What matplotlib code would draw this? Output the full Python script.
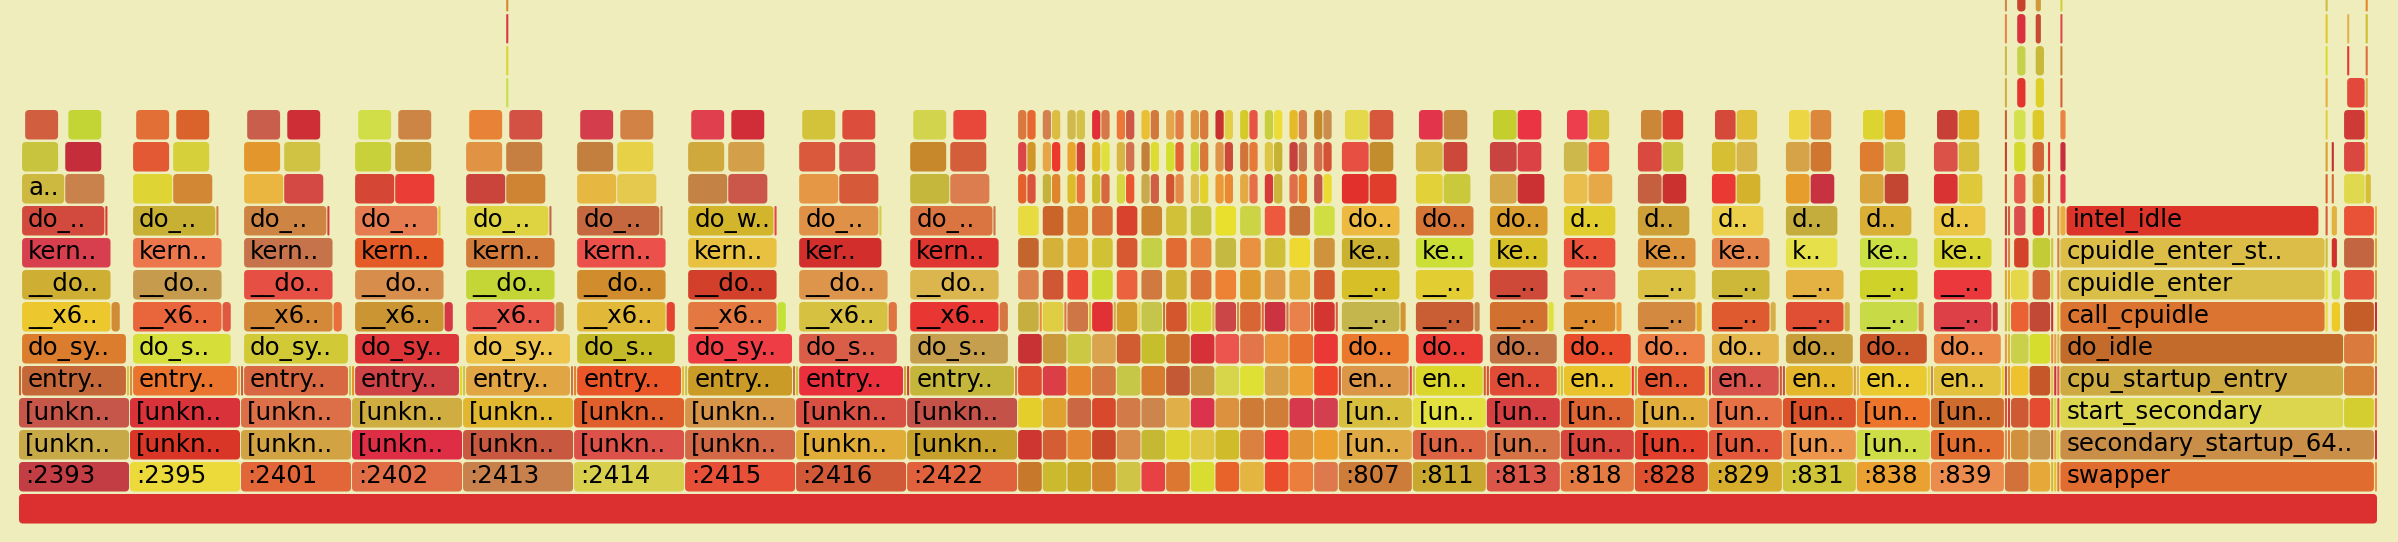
import hashlib
import matplotlib
matplotlib.use("Agg")
import matplotlib.pyplot as plt
from matplotlib.patches import FancyBboxPatch

# --- data (sample counts / frame layout in samples) ---
BIG_PIDS = [':2393', ':2395', ':2401', ':2402', ':2413', ':2414', ':2415', ':2416', ':2422']
BIG_SAMPLES = [36] * 9
BIG_W5 = [34, 32, 34, 34, 34, 32, 34, 32, 32]   # do_syscall_64
BIG_W8 = [29, 29, 29, 29, 29, 29, 29, 27, 29]   # kernel_wait4
BIG_W9 = [27, 27, 27, 27, 27, 27, 28, 26, 27]   # do_wait
BIG_A = [14, 13, 13, 13, 13, 13, 13, 13, 13]    # add_wait_queue

SMALL_PIDS = [':2433', ':2447', ':2461', ':2478', ':2490', ':2502', ':2519',
              ':2534', ':2548', ':2566', ':2581', ':2597', ':2610']
SMALL_SAMPLES = [8] * 13

MID_PIDS = [':807', ':811', ':813', ':818', ':828', ':829', ':831', ':838', ':839']
MID_SAMPLES = [24] * 9
MID_W6 = [19, 19, 19, 17, 19, 19, 19, 19, 19]
MID_W8 = [19, 19, 19, 17, 19, 19, 17, 19, 19]
MID_W9 = [19, 19, 19, 17, 17, 17, 17, 17, 17]
MID_T = [9, 9, 9, 8, 8, 8, 8, 8, 8]

TAIL_PIDS = [':845', ':849', ':862', ':870', ':901', 'swapper', 'systemd']
TAIL_SAMPLES = [8, 7, 1, 1, 1, 102, 1]

SWAPPER_FRAMES = [
    (2, 662, 102, 'secondary_startup_64_no_verify'),
    (3, 662, 92, 'start_secondary'),
    (3, 754, 10, 'x86_64_start_kernel'),
    (4, 662, 92, 'cpu_startup_entry'),
    (4, 754, 10, 'x86_64_start_reservations'),
    (5, 662, 92, 'do_idle'),
    (5, 754, 10, 'start_kernel'),
    (6, 662, 86, 'call_cpuidle'),
    (6, 750, 3, 'schedule_idle'),
    (6, 754, 10, 'arch_call_rest_init'),
    (7, 662, 86, 'cpuidle_enter'),
    (7, 750, 3, '__schedule'),
    (7, 754, 10, 'rest_init'),
    (8, 662, 86, 'cpuidle_enter_state'),
    (8, 750, 2, 'finish_task_switch'),
    (8, 754, 10, 'cpu_startup_entry'),
    (9, 662, 2, 'asm_sysvec_apic_timer_interrupt'),
    (9, 664, 82, 'intel_idle'),
    (9, 750, 2, '__perf_event_task_sched_in'),
    (9, 754, 10, 'do_idle'),
    (10, 754, 7, 'call_cpuidle'),
    (10, 761, 2, 'schedule_idle'),
    (11, 754, 7, 'cpuidle_enter'),
    (12, 754, 7, 'cpuidle_enter_state'),
    (13, 755, 6, 'intel_idle'),
]

# thin stacked columns: (start, width, depth_from, depth_to, name)
COLUMNS = [
    (644, 1, 2, 16, 'asm_exc_page_fault'),
    (645, 1, 2, 9, 'exc_page_fault'),
    (646, 6, 2, 7, '[unknown]'),
    (647, 5, 8, 8, 'do_syscall_64'),
    (647, 4, 9, 12, 'futex_wait'),
    (648, 3, 13, 16, 'schedule'),
    (652, 7, 2, 6, '[unknown]'),
    (653, 6, 7, 8, 'entry_SYSCALL_64'),
    (653, 4, 9, 12, 'do_futex'),
    (658, 1, 9, 11, 'futex_wake'),
    (654, 3, 13, 14, 'schedule'),
    (654, 2, 15, 16, 'finish_task_switch'),
    (659, 1, 2, 8, 'ret_from_fork'),
    (660, 1, 2, 5, 'kthread'),
    (661, 1, 2, 9, 'worker_thread'),
    (764, 1, 2, 9, 'ret_from_fork'),
    (158, 1, 13, 16, 'asm_sysvec_apic_timer_interrupt'),
    (662, 2, 10, 12, 'sysvec_apic_timer_interrupt'),
    (662, 1, 13, 16, 'hrtimer_interrupt'),
    (748, 1, 6, 16, 'flush_smp_call_function_queue'),
    (750, 1, 10, 11, 'pick_next_task'),
    (761, 1, 11, 16, '__schedule'),
    (755, 1, 14, 15, 'native_safe_halt'),
]

# --- style ---
BG = '#eeedbb'
FIXED_COLORS = {
    (0, ''): '#dc3030',
    (1, 'swapper'): '#e06c30',
    (2, 'secondary_startup_64_no_verify'): '#c98f48',
    (3, 'start_secondary'): '#dcd64e',
    (4, 'cpu_startup_entry'): '#cdaa42',
    (5, 'do_idle'): '#c26b2a',
    (6, 'call_cpuidle'): '#db7430',
    (7, 'cpuidle_enter'): '#d9bf48',
    (8, 'cpuidle_enter_state'): '#dbbd48',
    (9, 'intel_idle'): '#dc3428',
}
X0, X1 = 19.0, 2378.0
ROOT_TOP, PITCH, BAR_H = 494.0, 32.0, 29.5
FONT_PX = 24.0

frames = []  # (depth, start, width, name)


def add(depth, start, width, name):
    frames.append((depth, start, width, name))


total = sum(BIG_SAMPLES) + sum(SMALL_SAMPLES) + sum(MID_SAMPLES) + sum(TAIL_SAMPLES)
add(0, 0, total, '')

pos = 0
for i, pid in enumerate(BIG_PIDS):
    s = pos
    a = BIG_A[i]
    add(1, s, BIG_SAMPLES[i], pid)
    add(2, s, 36, '[unknown]')
    add(3, s, 36, '[unknown]')
    add(4, s, 1, '[unknown]')
    add(4, s + 1, 34, 'entry_SYSCALL_64_after_hwframe')
    add(4, s + 35, 1, 'syscall_return_via_sysret')
    add(5, s + 1, BIG_W5[i], 'do_syscall_64')
    add(6, s + 1, 29, '__x64_sys_wait4')
    add(6, s + 30, 3, 'syscall_exit_to_user_mode')
    add(7, s + 1, 29, '__do_sys_wait4')
    add(8, s + 1, BIG_W8[i], 'kernel_wait4')
    add(9, s + 1, BIG_W9[i], 'do_wait')
    add(9, s + 1 + BIG_W9[i], 1, 'put_pid')
    add(10, s + 1, a, 'add_wait_queue')
    add(10, s + 1 + a, 13, 'schedule')
    add(11, s + 1, 12, '_raw_spin_lock_irqsave')
    add(11, s + 1 + a, 12, '__schedule')
    add(12, s + 2, 11, 'native_queued_spin_lock_slowpath')
    add(12, s + 2 + a, 11, 'pick_next_task_fair')
    pos += BIG_SAMPLES[i]

for i, pid in enumerate(SMALL_PIDS):
    s = pos
    add(1, s, SMALL_SAMPLES[i], pid)
    add(2, s, 8, '[unknown]')
    add(3, s, 8, '[unknown]')
    add(4, s, 8, 'entry_SYSCALL_64_after_hwframe')
    add(5, s, 8, 'do_syscall_64')
    add(6, s, 7, '__x64_sys_wait4')
    add(6, s + 7, 1, 'syscall_exit_to_user_mode')
    add(7, s, 7, '__do_sys_wait4')
    add(8, s, 7, 'kernel_wait4')
    add(9, s, 7, 'do_wait')
    add(10, s, 3, 'add_wait_queue')
    add(10, s + 3, 3, 'schedule')
    add(11, s, 3, '_raw_spin_lock_irqsave')
    add(11, s + 3, 3, '__schedule')
    add(12, s, 3, 'native_queued_spin_lock_slowpath')
    add(12, s + 3, 3, 'pick_next_task_fair')
    pos += SMALL_SAMPLES[i]

for i, pid in enumerate(MID_PIDS):
    s = pos
    t = MID_T[i]
    add(1, s, MID_SAMPLES[i], pid)
    add(2, s, 24, '[unknown]')
    add(3, s, 24, '[unknown]')
    add(4, s, 1, '[unknown]')
    add(4, s + 1, 22, 'entry_SYSCALL_64_after_hwframe')
    add(4, s + 23, 1, 'syscall_return_via_sysret')
    add(5, s + 1, 22, 'do_syscall_64')
    add(6, s + 1, MID_W6[i], '__x64_sys_wait4')
    add(6, s + 1 + MID_W6[i], 2, 'syscall_exit_to_user_mode')
    add(7, s + 1, MID_W6[i], '__do_sys_wait4')
    add(8, s + 1, MID_W8[i], 'kernel_wait4')
    add(9, s + 1, MID_W9[i], 'do_wait')
    add(10, s + 1, t, 'add_wait_queue')
    add(10, s + 1 + t, t, 'schedule')
    add(11, s + 1, t, '_raw_spin_lock_irqsave')
    add(11, s + 1 + t, t - 1, '__schedule')
    add(12, s + 2, t - 1, 'native_queued_spin_lock_slowpath')
    add(12, s + 1 + t, t - 1, 'pick_next_task_fair')
    pos += MID_SAMPLES[i]

for i, pid in enumerate(TAIL_PIDS):
    add(1, pos, TAIL_SAMPLES[i], pid)
    pos += TAIL_SAMPLES[i]

for f in SWAPPER_FRAMES:
    add(*f)

for start, width, d0, d1, name in COLUMNS:
    for d in range(d0, d1 + 1):
        add(d, start, width, name)

U = (X1 - X0) / total


def hot_color(depth, start, name):
    if (depth, name) in FIXED_COLORS:
        return FIXED_COLORS[(depth, name)]
    h = hashlib.md5(f'{name}|{depth}|{start}'.encode()).digest()
    v1, v2, v3 = h[0] / 255, h[1] / 255, h[2] / 255
    r = 195 + 43 * v3
    g = 45 + 180 * v1
    b = 40 + 38 * v2
    return (r / 255, g / 255, b / 255)


def fit_label(name, w_px):
    chars = int(w_px / (0.59 * FONT_PX))
    if chars < 3:
        return ''
    if len(name) > chars:
        return name[:chars - 2] + '..'
    return name


fig = plt.figure(figsize=(23.98, 5.42), dpi=100)
fig.patch.set_facecolor(BG)
ax = fig.add_axes([0, 0, 1, 1])
ax.set_facecolor(BG)
ax.set_xlim(0, 2398)
ax.set_ylim(542, 0)
ax.axis('off')

for depth, start, width, name in frames:
    x = X0 + start * U
    w = width * U
    y = ROOT_TOP - depth * PITCH
    wd = max(w - 1.0, 0.8)
    rs = min(4.0, wd / 2, BAR_H / 2)
    ax.add_patch(FancyBboxPatch((x, y), wd, BAR_H,
                                boxstyle=f'round,pad=0,rounding_size={rs}',
                                facecolor=hot_color(depth, start, name),
                                edgecolor='none', linewidth=0))
    label = fit_label(name, w)
    if label:
        ax.text(x + 6, y + 21, label, fontsize=FONT_PX * 0.73, color='black',
                family='DejaVu Sans', ha='left', va='baseline')

fig.savefig('out.png', dpi=100, facecolor=BG)
